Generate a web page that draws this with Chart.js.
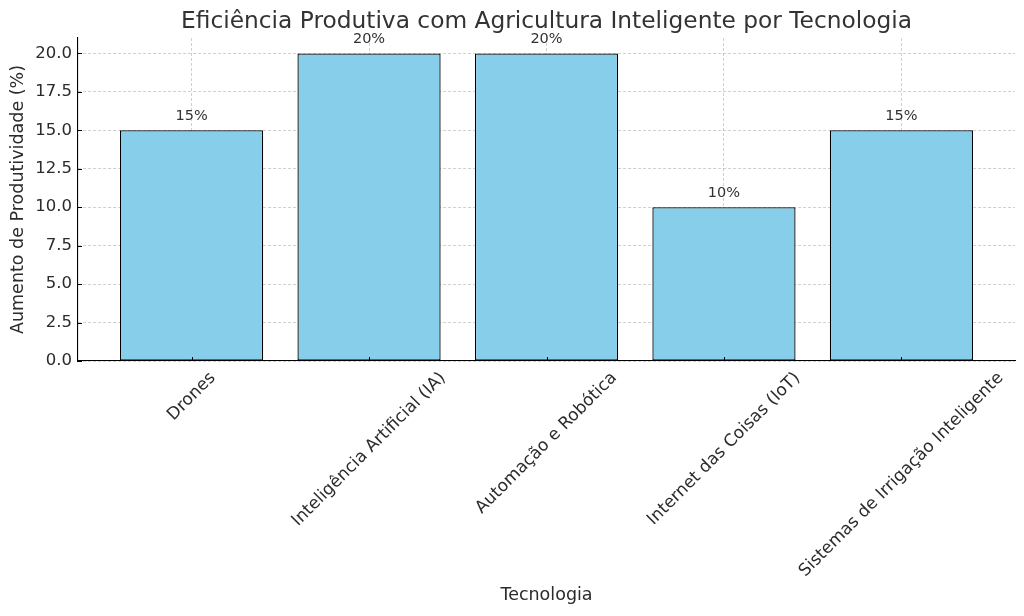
<!DOCTYPE html>
<html>
<head>
<meta charset="utf-8">
<script src="https://cdn.jsdelivr.net/npm/chart.js@4.4.1/dist/chart.umd.min.js"></script>
<style>
  html, body { margin: 0; padding: 0; background: #ffffff; }
  #wrap { width: 1024px; height: 616px; position: relative; }
</style>
</head>
<body>
<div id="wrap"><canvas id="c"></canvas></div>
<script>
const chartTitle = 'Eficiência Produtiva com Agricultura Inteligente por Tecnologia';
const categories = [
  'Drones',
  'Inteligência Artificial (IA)',
  'Automação e Robótica',
  'Internet das Coisas (IoT)',
  'Sistemas de Irrigação Inteligente'
];
const productivityGain = [15, 20, 20, 10, 15];
const valueLabels = ['15%', '20%', '20%', '10%', '15%'];
const yTickValues = [0, 2.5, 5, 7.5, 10, 12.5, 15, 17.5, 20];
const categoryPositions = [0, 1, 2, 3, 4];

const FONT = "'DejaVu Sans', 'Liberation Sans', sans-serif";
const TEXT = '#2b2b2b';

const overlayPlugin = {
  id: 'overlay',
  afterDraw(chart) {
    const ctx = chart.ctx;
    const xs = chart.scales.x, ys = chart.scales.y;
    const area = chart.chartArea;
    ctx.save();
    // title centred over the plot area
    ctx.fillStyle = '#333333';
    ctx.font = '23.3px ' + FONT;
    ctx.textAlign = 'center';
    ctx.textBaseline = 'middle';
    ctx.fillText(chartTitle, (area.left + area.right) / 2, 22);
    // inward tick marks
    ctx.strokeStyle = '#000';
    ctx.lineWidth = 1;
    ctx.beginPath();
    yTickValues.forEach(v => {
      const y = Math.round(ys.getPixelForValue(v)) + 0.5;
      ctx.moveTo(area.left, y); ctx.lineTo(area.left + 4, y);
    });
    categoryPositions.forEach(p => {
      const x = Math.round(xs.getPixelForValue(p)) + 0.5;
      ctx.moveTo(x, area.bottom); ctx.lineTo(x, area.bottom - 4);
    });
    ctx.stroke();
    // value labels
    ctx.fillStyle = '#333333';
    ctx.font = '14.5px ' + FONT;
    ctx.textAlign = 'center';
    ctx.textBaseline = 'bottom';
    productivityGain.forEach((v, i) => {
      const x = xs.getPixelForValue(categoryPositions[i]);
      const y = ys.getPixelForValue(v + 0.5);
      ctx.fillText(valueLabels[i], x, y + 1);
    });
    // rotated category labels (bbox centred under tick)
    const fs = 17;
    ctx.font = fs + 'px ' + FONT;
    ctx.fillStyle = TEXT;
    ctx.textAlign = 'center';
    ctx.textBaseline = 'middle';
    categories.forEach((lab, i) => {
      const x = xs.getPixelForValue(categoryPositions[i]);
      const w = ctx.measureText(lab).width;
      const h = fs * 1.05;
      const bb = (w + h) * Math.SQRT1_2;
      const top = area.bottom + 8;
      ctx.save();
      ctx.translate(x, top + bb / 2);
      ctx.rotate(-Math.PI / 4);
      ctx.fillText(lab, 0, 0);
      ctx.restore();
    });
    ctx.restore();
  }
};

const gridStyle = {
  display: true,
  color: 'rgba(150,150,150,0.45)',
  lineWidth: 1,
  drawTicks: false
};

new Chart(document.getElementById('c'), {
  type: 'bar',
  data: {
    datasets: [{
      data: categoryPositions.map((p, i) => ({ x: p, y: productivityGain[i] })),
      backgroundColor: '#87CEEB',
      borderColor: '#000000',
      borderWidth: 1.3,
      borderSkipped: false,
      barPercentage: 0.807,
      categoryPercentage: 1.0
    }]
  },
  options: {
    responsive: true,
    maintainAspectRatio: false,
    animation: false,
    layout: { padding: { left: 0, right: 9, top: 38, bottom: 0 } },
    plugins: {
      legend: { display: false },
      tooltip: { enabled: false },
      title: { display: false }
    },
    scales: {
      x: {
        type: 'linear',
        min: -0.64,
        max: 4.64,
        offset: false,
        z: 1,
        afterBuildTicks(scale) { scale.ticks = categoryPositions.map(v => ({ value: v })); },
        afterFit(scale) { scale.height = 255; },
        ticks: { display: false },
        grid: Object.assign({}, gridStyle, { offset: false }),
        border: { display: true, color: '#000', width: 1.1, dash: [3, 2] },
        title: {
          display: true,
          text: 'Tecnologia',
          color: TEXT,
          font: { family: FONT, size: 17.5 },
          padding: { top: 0, bottom: 10 }
        }
      },
      y: {
        type: 'linear',
        min: 0,
        max: 21,
        z: 1,
        afterBuildTicks(scale) { scale.ticks = yTickValues.map(v => ({ value: v })); },
        afterFit(scale) { scale.width = 78; },
        ticks: {
          color: TEXT,
          padding: 6,
          font: { family: FONT, size: 16.5 },
          callback: v => Number(v).toFixed(1)
        },
        grid: gridStyle,
        border: { display: true, color: '#000', width: 1.1, dash: [3, 2] },
        title: {
          display: true,
          text: 'Aumento de Produtividade (%)',
          color: TEXT,
          font: { family: FONT, size: 17.5 },
          padding: { top: 7.5, bottom: 0 }
        }
      }
    }
  },
  plugins: [overlayPlugin]
});
</script>
</body>
</html>
